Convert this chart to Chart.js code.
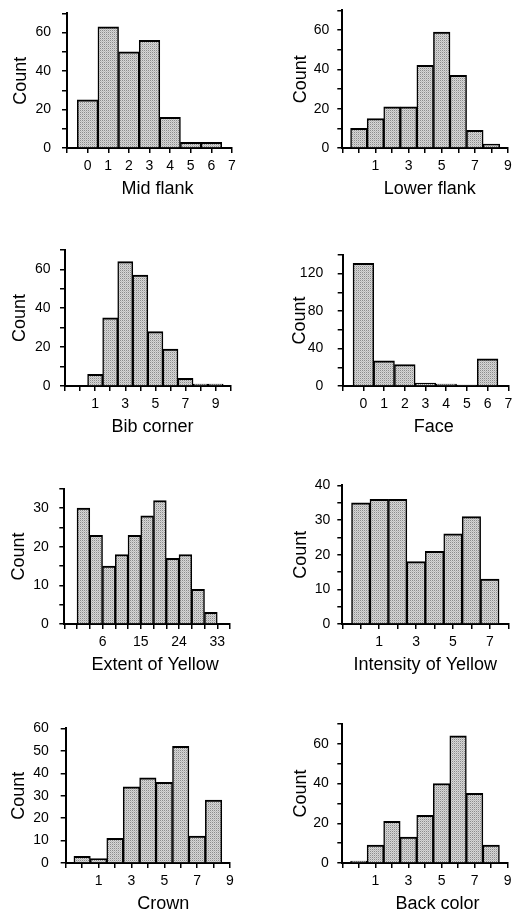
<!DOCTYPE html>
<html>
<head>
<meta charset="utf-8">
<script src="https://cdn.jsdelivr.net/npm/chart.js@4/dist/chart.umd.min.js"></script>
<style>
    html, body { margin: 0; padding: 0; background: #fff; overflow: hidden; }
    #board { position: relative; width: 521px; height: 913px; }
    #board canvas { position: absolute; }
</style>
</head>
<body>
<div id="board"></div>
<script>
// --- bin centres and counts for each plumage score ---
const midFlankBins = [0, 1, 2, 3, 4, 5, 6];
const midFlankCounts = [25, 63, 50, 56, 16, 3, 3];

const lowerFlankBins = [0, 1, 2, 3, 4, 5, 6, 7, 8];
const lowerFlankCounts = [10, 15, 21, 21, 42, 59, 37, 9, 2];

const bibCornerBins = [1, 2, 3, 4, 5, 6, 7, 8, 9];
const bibCornerCounts = [6, 35, 64, 57, 28, 19, 4, 1, 1];

const faceBins = [0, 1, 2, 3, 4, 5, 6];
const faceCounts = [131, 27, 23, 3, 2, 1, 29];

const extentBins = [1.5, 4.5, 7.5, 10.5, 13.5, 16.5, 19.5, 22.5, 25.5, 28.5, 31.5];
const extentCounts = [30, 23, 15, 18, 23, 28, 32, 17, 18, 9, 3];

const intensityBins = [0, 1, 2, 3, 4, 5, 6, 7];
const intensityCounts = [35, 36, 36, 18, 21, 26, 31, 13];

const crownBins = [0, 1, 2, 3, 4, 5, 6, 7, 8];
const crownCounts = [3, 2, 11, 34, 38, 36, 52, 12, 28];

const backColorBins = [0, 1, 2, 3, 4, 5, 6, 7, 8];
const backColorCounts = [1, 9, 21, 13, 24, 40, 64, 35, 9];

// --- tick labels that get printed (other ticks stay as bare marks) ---
const xTicksAll = [0, 1, 2, 3, 4, 5, 6, 7];
const xTicksOdd = [1, 3, 5, 7, 9];
const xTicksOdd7 = [1, 3, 5, 7];
const xTicksExtent = [6, 15, 24, 33];
const yTicks70 = [0, 20, 40, 60];
const yTicks140 = [0, 40, 80, 120];
const yTicks35 = [0, 10, 20, 30];
const yTicks40 = [0, 10, 20, 30, 40];
const yTicks60 = [0, 10, 20, 30, 40, 50, 60];

const FONT = '"Liberation Sans", Arial, Helvetica, sans-serif';
Chart.defaults.font.family = FONT;
Chart.defaults.color = '#000';

// fine grey grain for the bars: a 2x2 tile with one dark dot
const makeStipple = () => {
    const c = document.createElement('canvas');
    c.width = 2; c.height = 2;
    const g = c.getContext('2d');
    const tile = [['#8c8c8c', '#d6d6d6'], ['#d6d6d6', '#bcbcbc']];
    tile.forEach((row, y) => row.forEach((col, x) => { g.fillStyle = col; g.fillRect(x, y, 1, 1); }));
    return g.createPattern(c, 'repeat');
};
const stipple = makeStipple();

// x-axis caption, nudged sideways like the printed figure
const axisCaption = {
    id: 'axisCaption',
    afterDraw(chart, args, opts) {
        const { ctx, chartArea } = chart;
        ctx.save();
        ctx.font = '18px ' + FONT;
        ctx.fillStyle = '#000';
        ctx.textAlign = 'center';
        ctx.textBaseline = 'middle';
        ctx.fillText(opts.text, (chartArea.left + chartArea.right) / 2 + opts.dx, chartArea.bottom + 41);
        ctx.restore();
    }
};

const panels = [
    { title: 'Mid flank', bins: midFlankBins, counts: midFlankCounts, xMin: -1, xMax: 7, xStep: 1, xLabels: xTicksAll,
      yMax: 70, yStep: 10, yLabels: yTicks70, left: 0, width: 260, axis: 67, right: 232, top: 6, bottom: 148, dx: 8, yPad: 11, tPad: 10.7 },
    { title: 'Lower flank', bins: lowerFlankBins, counts: lowerFlankCounts, xMin: -1, xMax: 9, xStep: 1, xLabels: xTicksOdd,
      yMax: 70, yStep: 10, yLabels: yTicks70, left: 260, width: 261, axis: 342.3, right: 508, top: 6, bottom: 148, dx: 4.5, yPad: 8, tPad: 30.7 },
    { title: 'Bib corner', bins: bibCornerBins, counts: bibCornerCounts, xMin: -1, xMax: 10, xStep: 1, xLabels: xTicksOdd,
      yMax: 70, yStep: 10, yLabels: yTicks70, left: 0, width: 260, axis: 65, right: 230.7, top: 244, bottom: 386, dx: 4.6, yPad: 9.5, tPad: 9.2 },
    { title: 'Face', bins: faceBins, counts: faceCounts, xMin: -1, xMax: 7, xStep: 1, xLabels: xTicksAll,
      yMax: 140, yStep: 20, yLabels: yTicks140, left: 260, width: 261, axis: 342.7, right: 508.3, top: 244, bottom: 386, dx: 8.2, yPad: 14.5, tPad: 29.2 },
    { title: 'Extent of Yellow', bins: extentBins, counts: extentCounts, xMin: -3, xMax: 36, xStep: 3, xLabels: xTicksExtent,
      yMax: 35, yStep: 5, yLabels: yTicks35, left: 0, width: 260, axis: 64.3, right: 230, top: 482.3, bottom: 624.3, dx: 8, yPad: 10.5, tPad: 8.7 },
    { title: 'Intensity of Yellow', bins: intensityBins, counts: intensityCounts, xMin: -1, xMax: 8, xStep: 1, xLabels: xTicksOdd7,
      yMax: 40, yStep: 5, yLabels: yTicks40, left: 260, width: 261, axis: 342.3, right: 508.3, top: 482.3, bottom: 624.3, dx: 0, yPad: 7, tPad: 30.7 },
    { title: 'Crown', bins: crownBins, counts: crownCounts, xMin: -1, xMax: 9, xStep: 1, xLabels: xTicksOdd,
      yMax: 60, yStep: 10, yLabels: yTicks60, left: 0, width: 260, axis: 65.7, right: 230, top: 720, bottom: 863.3, dx: 15.4, yPad: 12, tPad: 8.7 },
    { title: 'Back color', bins: backColorBins, counts: backColorCounts, xMin: -1, xMax: 9, xStep: 1, xLabels: xTicksOdd,
      yMax: 70, yStep: 10, yLabels: yTicks70, left: 260, width: 261, axis: 342.3, right: 507.7, top: 719.3, bottom: 863.3, dx: 12.5, yPad: 8.5, tPad: 30.7 }
];

const board = document.getElementById('board');
const TOP_GAP = 12, X_AXIS_H = 56;

panels.forEach(p => {
    const canvas = document.createElement('canvas');
    const height = TOP_GAP + (p.bottom - p.top) + X_AXIS_H;
    canvas.width = p.width;
    canvas.height = Math.round(height);
    canvas.style.left = p.left + 'px';
    canvas.style.top = (p.top - TOP_GAP) + 'px';
    board.appendChild(canvas);

    const tickGrid = { drawOnChartArea: false, drawTicks: true, tickLength: 5, color: '#000', lineWidth: 1.5, offset: false };
    const axisLine = { display: true, color: '#000', width: 2 };

    new Chart(canvas.getContext('2d'), {
        type: 'bar',
        data: {
            datasets: [{
                data: p.bins.map((b, i) => ({ x: b, y: p.counts[i] })),
                backgroundColor: stipple,
                borderColor: '#000',
                borderWidth: { top: 2, left: 1.5, right: 1.5, bottom: 0 },
                borderSkipped: 'start',
                barPercentage: 1,
                categoryPercentage: 1
            }]
        },
        options: {
            responsive: false,
            animation: false,
            events: [],
            layout: { padding: { top: TOP_GAP, left: 0, bottom: 0, right: p.width - (p.right - p.left) } },
            plugins: {
                legend: { display: false },
                tooltip: { enabled: false },
                axisCaption: { text: p.title, dx: p.dx }
            },
            scales: {
                x: {
                    type: 'linear',
                    min: p.xMin, max: p.xMax,
                    offset: false,
                    grid: tickGrid,
                    border: axisLine,
                    ticks: {
                        stepSize: p.xStep, autoSkip: false, maxRotation: 0, padding: 4.5,
                        font: { size: 14 },
                        callback: v => p.xLabels.includes(v) ? String(v) : ''
                    },
                    afterFit: s => { s.height = X_AXIS_H; }
                },
                y: {
                    min: 0, max: p.yMax,
                    grid: tickGrid,
                    border: axisLine,
                    ticks: {
                        stepSize: p.yStep, autoSkip: false, padding: p.yPad,
                        font: { size: 14 },
                        callback: v => p.yLabels.includes(v) ? String(v) : ''
                    },
                    title: { display: true, text: 'Count', font: { size: 18 }, padding: { top: p.tPad, bottom: 0 } },
                    afterFit: s => { s.width = p.axis - p.left; }
                }
            }
        },
        plugins: [axisCaption]
    });
});
</script>
</body>
</html>
